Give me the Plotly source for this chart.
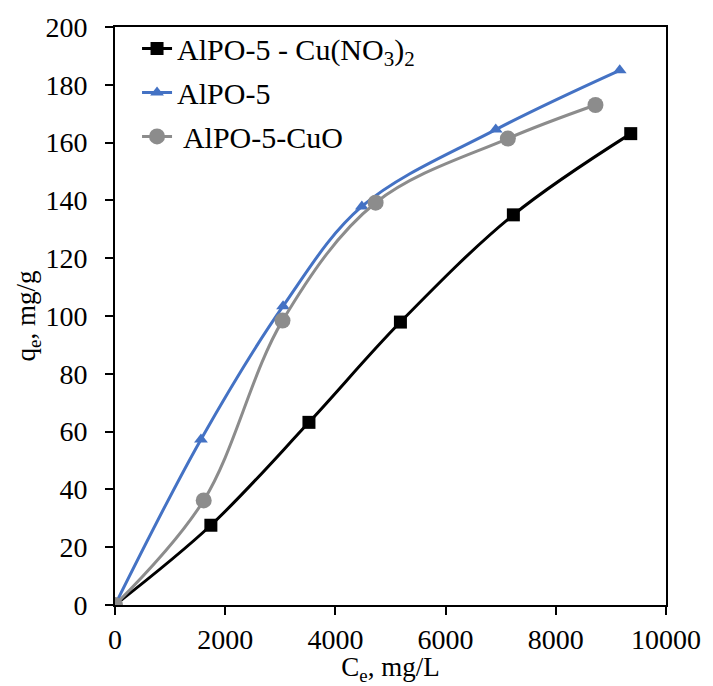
import plotly.graph_objects as go

# Data
cu_no3_x = [0, 1740, 3520, 5180, 7230, 9360]
cu_no3_y = [0, 27.6, 63.2, 97.9, 135.0, 163.1]
alpo_x = [0, 1560, 3050, 4480, 6910, 9160]
alpo_y = [0, 57.3, 103.4, 137.9, 164.5, 185.0]
cuo_x = [0, 1610, 3040, 4730, 7130, 8720]
cuo_y = [0, 36.2, 98.4, 139.2, 161.4, 173.0]

names = ["AlPO-5 - Cu(NO<sub>3</sub>)<sub>2</sub>", "AlPO-5", " AlPO-5-CuO"]
x_ticks = [0, 2000, 4000, 6000, 8000, 10000]
x_ticktext = ["0", "2000", "4000", "6000", "8000", "10000"]
y_ticks = [0, 20, 40, 60, 80, 100, 120, 140, 160, 180, 200]

font = "Liberation Serif, Times New Roman, serif"

fig = go.Figure()
fig.add_trace(go.Scatter(x=cu_no3_x, y=cu_no3_y, name=names[0], mode="lines+markers",
                         line=dict(color="black", width=3, shape="spline"),
                         marker=dict(symbol="square", size=13, color="black"),
                         legendgroup="a"))
fig.add_trace(go.Scatter(x=alpo_x, y=alpo_y, name=names[1], mode="lines+markers",
                         line=dict(color="#4472C4", width=3, shape="spline"),
                         marker=dict(symbol="triangle-up", size=12, color="#4472C4"),
                         legendgroup="b"))
fig.add_trace(go.Scatter(x=cuo_x, y=cuo_y, name=names[2], mode="lines+markers",
                         line=dict(color="#8C8C8C", width=3, shape="spline"),
                         marker=dict(symbol="circle", size=16, color="#8C8C8C"),
                         legendgroup="c"))

fig.update_layout(
    width=713, height=686,
    margin=dict(l=115, r=41, t=25, b=81),
    paper_bgcolor="white", plot_bgcolor="white",
    font=dict(family=font, size=28, color="black"),
    showlegend=True,
    legend=dict(x=0.04, y=1.008, xanchor="left", yanchor="top",
                bgcolor="rgba(0,0,0,0)", font=dict(size=30, family=font),
                tracegroupgap=2),
    xaxis=dict(range=[0, 10000], tickvals=x_ticks, ticktext=x_ticktext,
               ticks="outside", ticklen=8, tickwidth=1.5, tickcolor="black",
               showline=True, linecolor="black", linewidth=2, mirror=True,
               showgrid=False, zeroline=False,
               title=dict(text="C<sub>e</sub>, mg/L", standoff=0, font=dict(size=27)),
               tickfont=dict(size=28)),
    yaxis=dict(range=[0, 200], tickvals=y_ticks,
               ticks="outside", ticklen=8, tickwidth=1.5, tickcolor="black",
               showline=True, linecolor="black", linewidth=2, mirror=True,
               showgrid=False, zeroline=False, ticklabelstandoff=12,
               title=dict(text="q<sub>e</sub>, mg/g", standoff=2, font=dict(size=27)),
               tickfont=dict(size=28)),
)

fig.write_html("out.html")
